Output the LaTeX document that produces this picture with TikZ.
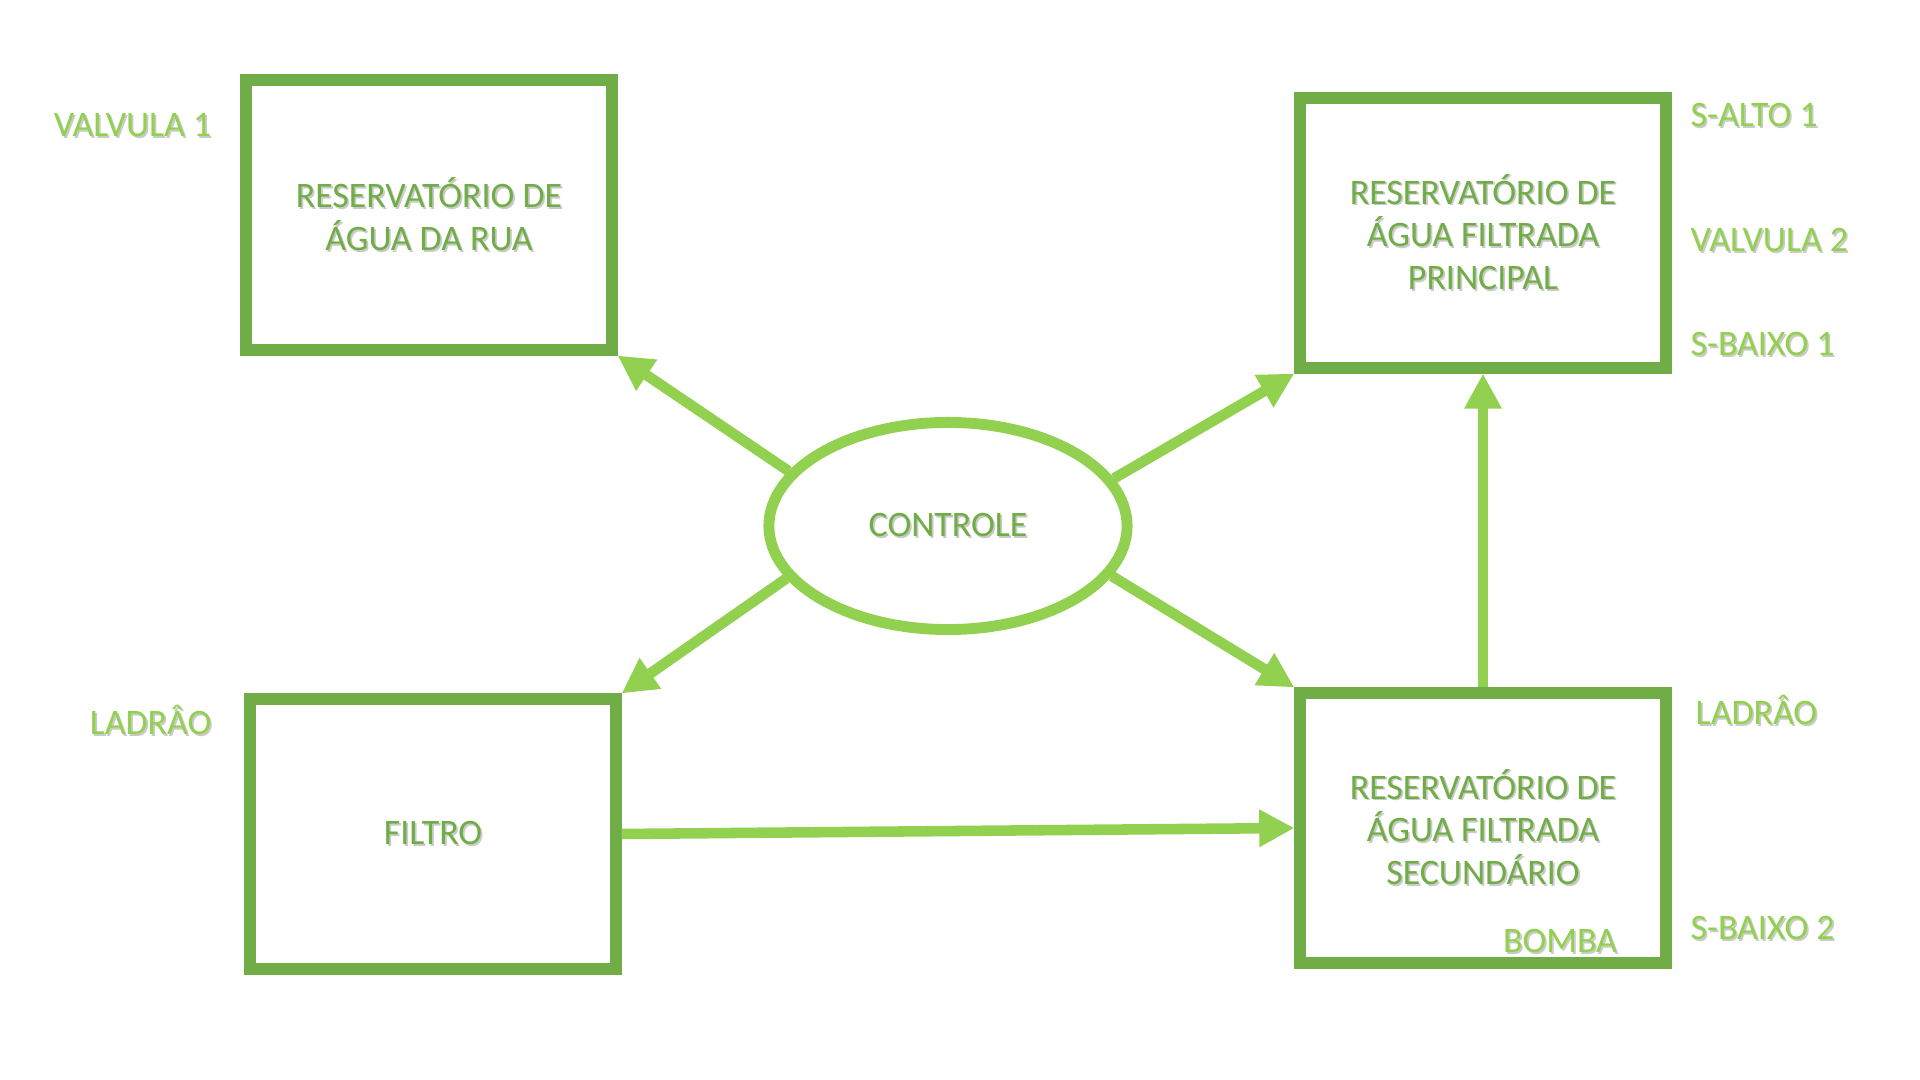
\documentclass[tikz,border=0pt]{standalone}
\usepackage{fontspec}
\setmainfont{Carlito}
\usepackage{tikz}
\usetikzlibrary{arrows.meta,shapes.geometric}
\definecolor{boxgreen}{HTML}{70AD47}
\definecolor{lightgreen}{HTML}{92D050}
\definecolor{shade}{HTML}{CACACA}
\newcommand{\shd}[1]{\leavevmode\rlap{\kern0.5pt\raisebox{-0.5pt}{\textcolor{shade}{#1}}}#1}

\begin{document}
\begin{tikzpicture}[x=0.01cm,y=-0.01cm,
  txt/.style={font=\fontsize{10.2pt}{12.2pt}\selectfont},
  tank/.style={txt,draw=boxgreen,line width=3.4pt,minimum width=3.65cm,minimum height=2.69cm,
    align=center,text=boxgreen},
  lbl/.style={txt,text=lightgreen,inner sep=0pt},
  flow/.style={lightgreen,line width=3pt,-{Triangle[length=10pt,width=10pt]}}]
  \useasboundingbox (0,0) rectangle (1920,1080);
  % tanks
  \node[tank] (rua) at (429,215) {\shd{RESERVATÓRIO DE}\\\shd{ÁGUA DA RUA}};
  \node[tank] (princ) at (1483,233) {\shd{RESERVATÓRIO DE}\\\shd{ÁGUA FILTRADA}\\\shd{PRINCIPAL}};
  \node[tank] (sec) at (1483,828) {\shd{RESERVATÓRIO DE}\\\shd{ÁGUA FILTRADA}\\\shd{SECUNDÁRIO}};
  \node[tank] (filtro) at (433,834) {\shd{FILTRO}};
  \node[txt,ellipse,draw=lightgreen,line width=3.1pt,minimum width=3.58cm,minimum height=2.07cm,
    inner sep=0pt,text=boxgreen] (ctrl) at (948,526) {\shd{CONTROLE}};
  % sensors and valves
  \node[lbl,anchor=base east] (valv1) at (212,137) {\shd{VALVULA 1}};
  \node[lbl,anchor=base east] (ladr1) at (212,735) {\shd{LADRÂO}};
  \node[lbl,anchor=base west] (salto1) at (1690,127) {\shd{S-ALTO 1}};
  \node[lbl,anchor=base west] (valv2) at (1690,252) {\shd{VALVULA 2}};
  \node[lbl,anchor=base west] (sbaixo1) at (1690,356) {\shd{S-BAIXO 1}};
  \node[lbl,anchor=base west] (ladr2) at (1695,725) {\shd{LADRÂO}};
  \node[lbl,anchor=base west] (sbaixo2) at (1690,940) {\shd{S-BAIXO 2}};
  \node[lbl,anchor=base] (bomba) at (1560,953) {\shd{BOMBA}};
  % connections
  \draw[flow] (ctrl.161) -- (rua.south east);
  \draw[flow] (ctrl.198) -- (filtro.north east);
  \draw[flow] (ctrl.16) -- (princ.south west);
  \draw[flow] (ctrl.343) -- (sec.north west);
  \draw[flow] (filtro.east) -- (sec.west);
  \draw[flow] (sec.north) -- (princ.south);
\end{tikzpicture}
\end{document}
